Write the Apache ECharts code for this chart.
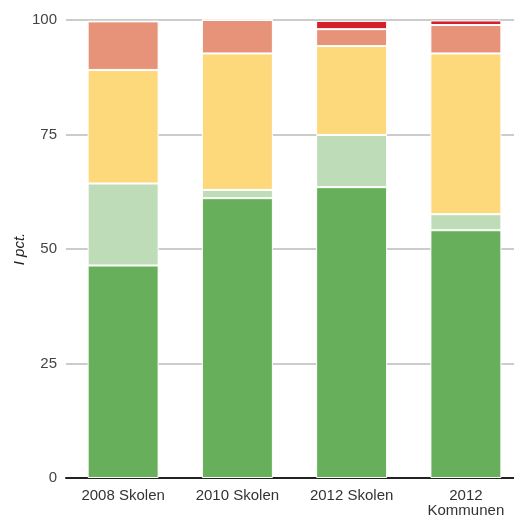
<!DOCTYPE html>
<html>
<head>
<meta charset="utf-8">
<script src="https://cdn.jsdelivr.net/npm/echarts@6/dist/echarts.min.js"></script>
<style>html,body{margin:0;padding:0;background:#fff}#c{width:514px;height:526px}</style>
</head>
<body>
<div id="c"></div>
<script>
const categories = ['2008 Skolen', '2010 Skolen', '2012 Skolen', '2012\nKommunen'];
const yTicks = [0, 25, 50, 75, 100];
const green = [46.4, 61.1, 63.5, 54.1];
const lightGreen = [17.9, 1.8, 11.4, 3.5];
const yellow = [24.8, 29.8, 19.4, 35.1];
const salmon = [10.6, 7.3, 3.7, 6.2];
const red = [0, 0, 1.8, 1.0];

const colors = ['#67af5a', '#bedcb8', '#fdd97b', '#e6937a', '#d3212a'];
const seriesData = [green, lightGreen, yellow, salmon, red];

const chart = echarts.init(document.getElementById('c'), null, {renderer: 'canvas'});
chart.setOption({
  animation: false,
  backgroundColor: '#fff',
  grid: {left: 66, top: 20, bottom: 48, width: 457, containLabel: false, outerBoundsMode: 'none'},
  xAxis: {
    type: 'category',
    data: categories,
    axisLine: {lineStyle: {color: '#222', width: 2}},
    axisTick: {show: false},
    axisLabel: {color: '#333', fontSize: 15, fontFamily: 'Liberation Sans, Arial, sans-serif', margin: 10, lineHeight: 15, interval: 0}
  },
  yAxis: {
    type: 'value',
    min: yTicks[0],
    max: yTicks[yTicks.length - 1],
    interval: 25,
    name: 'I pct.',
    nameLocation: 'middle',
    nameGap: 39,
    nameMoveOverlap: false,
    nameTextStyle: {color: '#222', fontSize: 15, fontStyle: 'italic', fontFamily: 'Liberation Sans, Arial, sans-serif'},
    axisLine: {show: false},
    axisTick: {show: false},
    axisLabel: {color: '#444', fontSize: 15, fontFamily: 'Liberation Sans, Arial, sans-serif', margin: 9},
    splitLine: {lineStyle: {color: '#cccccc', width: 2}}
  },
  series: seriesData.map((d, i) => ({
    type: 'bar',
    stack: 'total',
    data: d,
    barWidth: 71,
    itemStyle: {color: colors[i], borderColor: '#fff', borderWidth: d.some(v => v > 0) ? 1 : 0},
    emphasis: {disabled: true}
  }))
});
</script>
</body>
</html>
